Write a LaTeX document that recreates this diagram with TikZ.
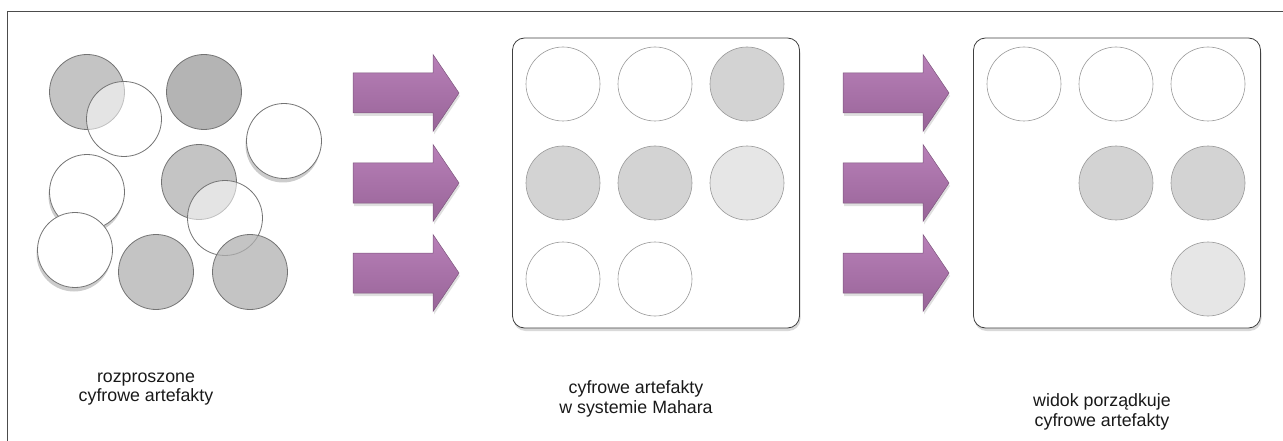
\documentclass[tikz,border=0pt]{standalone}
\usepackage{fontspec}
\setmainfont{Liberation Sans}
\usepackage{xcolor}
\usepackage{tikz}
\usetikzlibrary{shadows}

\definecolor{scatgray}{RGB}{176,176,176}
\definecolor{scatdark}{RGB}{155,155,155}
\definecolor{slotgray}{RGB}{211,211,211}
\definecolor{slotlight}{RGB}{230,230,230}
\definecolor{arrowtop}{RGB}{184,128,184}
\definecolor{arrowbot}{RGB}{152,100,152}
\definecolor{arrowline}{RGB}{125,85,125}

\begin{document}
\begin{tikzpicture}[x=1pt, y=-1pt,
  scatter/.style={circle, minimum size=75pt, inner sep=0pt, draw=black!55, line width=0.8pt},
  scatwhite/.style={scatter, fill=white, drop shadow={opacity=0.4, shadow xshift=-1pt, shadow yshift=-4pt}},
  seewhite/.style={scatter, fill=white, fill opacity=0.55},
  seegray/.style={scatter, fill=scatgray, fill opacity=0.75},
  slot/.style={circle, minimum size=74pt, inner sep=0pt, draw=black!40, line width=0.6pt},
  panel/.style={draw=black!75, line width=0.8pt, fill=white, rounded corners=12pt,
    minimum width=287pt, minimum height=290pt,
    drop shadow={opacity=0.3, shadow xshift=1pt, shadow yshift=-3pt}},
  bigarrow/.style={top color=arrowtop, bottom color=arrowbot, draw=arrowline, line width=0.5pt,
    drop shadow={opacity=0.25, shadow xshift=1pt, shadow yshift=-3pt}},
  caption/.style={align=center, font=\fontsize{17.8}{19.5}\selectfont, text=black!90}
]
  \useasboundingbox (0,0) rectangle (1283,441);
  % frame
  \draw[black!70, line width=1pt] (7,441) -- (7,12) -- (1283,12);

  % scattered artefacts
  \node[seegray] (s1) at (87,92) {};
  \node[seewhite] (s2) at (124,119) {};
  \node[seegray, fill=scatdark] (s3) at (204,92) {};
  \node[scatwhite] (s4) at (284,141) {};
  \node[scatwhite] (s5) at (87,192) {};
  \node[seegray] (s6) at (199,182) {};
  \node[seewhite] (s7) at (225,218) {};
  \node[scatwhite] (s8) at (75,250) {};
  \node[seegray] (s9) at (156,272) {};
  \node[seegray] (s10) at (250,272) {};

  % arrows
  \foreach \x in {353,843} {
    \foreach \y in {93,183,273} {
      \draw[bigarrow] (\x,\y-20) -- ++(80,0) -- ++(0,-18.5) -- ++(26,38.5)
        -- ++(-26,38.5) -- ++(0,-18.5) -- ++(-80,0) -- cycle;
    }
  }

  % Mahara panel
  \node[panel] (boxA) at (656,183) {};
  \node[slot, fill=white] (a11) at (563,84) {};
  \node[slot, fill=white] (a12) at (655,84) {};
  \node[slot, fill=slotgray] (a13) at (747,84) {};
  \node[slot, fill=slotgray] (a21) at (563,183) {};
  \node[slot, fill=slotgray] (a22) at (655,183) {};
  \node[slot, fill=slotlight] (a23) at (747,183) {};
  \node[slot, fill=white] (a31) at (563,279) {};
  \node[slot, fill=white] (a32) at (655,279) {};

  % view panel
  \node[panel] (boxB) at (1117,183) {};
  \node[slot, fill=white] (b11) at (1024,84) {};
  \node[slot, fill=white] (b12) at (1116,84) {};
  \node[slot, fill=white] (b13) at (1208,84) {};
  \node[slot, fill=slotgray] (b22) at (1116,183) {};
  \node[slot, fill=slotgray] (b23) at (1208,183) {};
  \node[slot, fill=slotlight] (b33) at (1208,279) {};

  % captions
  \node[caption] (capA) at (146,389) {rozproszone\\cyfrowe artefakty};
  \node[caption] (capB) at (636,399) {cyfrowe artefakty\\w systemie Mahara};
  \node[caption] (capC) at (1102,412) {widok porządkuje\\cyfrowe artefakty};
\end{tikzpicture}
\end{document}
